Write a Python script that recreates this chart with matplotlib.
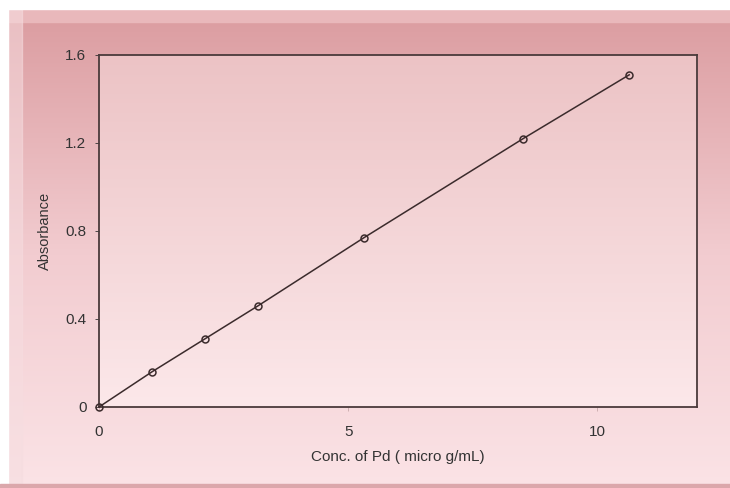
import numpy as np
import matplotlib.pyplot as plt
from matplotlib.patches import Rectangle
from matplotlib.colors import LinearSegmentedColormap

plt.rcParams['font.family'] = ['Liberation Sans', 'DejaVu Sans']

# calibration data: Pd concentration vs absorbance
conc = [0.0, 1.064, 2.128, 3.192, 5.32, 8.512, 10.64]
absorbance = [0.0, 0.16, 0.31, 0.46, 0.77, 1.22, 1.51]

x_ticks = [0, 5, 10]
y_ticks = [0, 0.4, 0.8, 1.2, 1.6]
y_ticklabels = ['0', '0.4', '0.8', '1.2', '1.6']

fig = plt.figure(figsize=(7.3, 4.88), dpi=100)

# ── background: pink vertical gradient with bevelled frame ─────────────────
bg = fig.add_axes([0, 0, 1, 1], zorder=-10)
bg.set_axis_off()
bg.set_xlim(0, 1)
bg.set_ylim(0, 1)
outer = LinearSegmentedColormap.from_list('outer', ['#fbe3e6', '#f2ccd0', '#dc9ea2'])
grad = np.linspace(0, 1, 256).reshape(-1, 1)
bg.imshow(grad, cmap=outer, aspect='auto', extent=[0, 1, 0, 0.955],
          origin='lower', zorder=0)
# bevel strips
bg.add_patch(Rectangle((0, 0.955), 1, 0.027, color='#e9b8bb', zorder=1))
bg.add_patch(Rectangle((0, 0.982), 1, 0.018, color='white', zorder=2))
bg.add_patch(Rectangle((0.011, 0.008), 0.019, 0.974, color='#f6dde0', alpha=0.55, zorder=1))
bg.add_patch(Rectangle((0, 0), 0.011, 1, color='white', zorder=2))
bg.add_patch(Rectangle((0, 0), 1, 0.008, color='#dba7ab', zorder=2))

# ── main axes ──────────────────────────────────────────────────────────────
ax = fig.add_axes([0.1356, 0.166, 0.8192, 0.7213])
ax.patch.set_alpha(0)
inner = LinearSegmentedColormap.from_list('inner', ['#fce8ea', '#ecc3c5'])
ax.imshow(grad, cmap=inner, aspect='auto', extent=[0, 12, 0, 1.6],
          origin='lower', zorder=0)

ax.plot(conc, absorbance, color='#3b2b2c', lw=1.1, marker='o', ms=5,
        mfc='none', mec='#3b2b2c', mew=1.1, zorder=3, clip_on=False)

ax.set_xlim(0, 12)
ax.set_ylim(0, 1.6)
ax.set_xticks(x_ticks)
ax.set_yticks(y_ticks)
ax.set_yticklabels(y_ticklabels)
ax.tick_params(axis='both', labelsize=11, colors='#333333', length=3,
               width=0.6, pad=6)
ax.tick_params(axis='x', colors='#c8a8aa', labelcolor='#333333', pad=10)
for side in ('top', 'right', 'bottom', 'left'):
    ax.spines[side].set_color('#4a3a3b')
    ax.spines[side].set_linewidth(1.3)

ax.set_xlabel('Conc. of Pd ( micro g/mL)', fontsize=11, color='#333333',
              labelpad=8)
ax.set_ylabel('Absorbance', fontsize=10.5, color='#333333', labelpad=10)

fig.savefig('out.png', dpi=100)
